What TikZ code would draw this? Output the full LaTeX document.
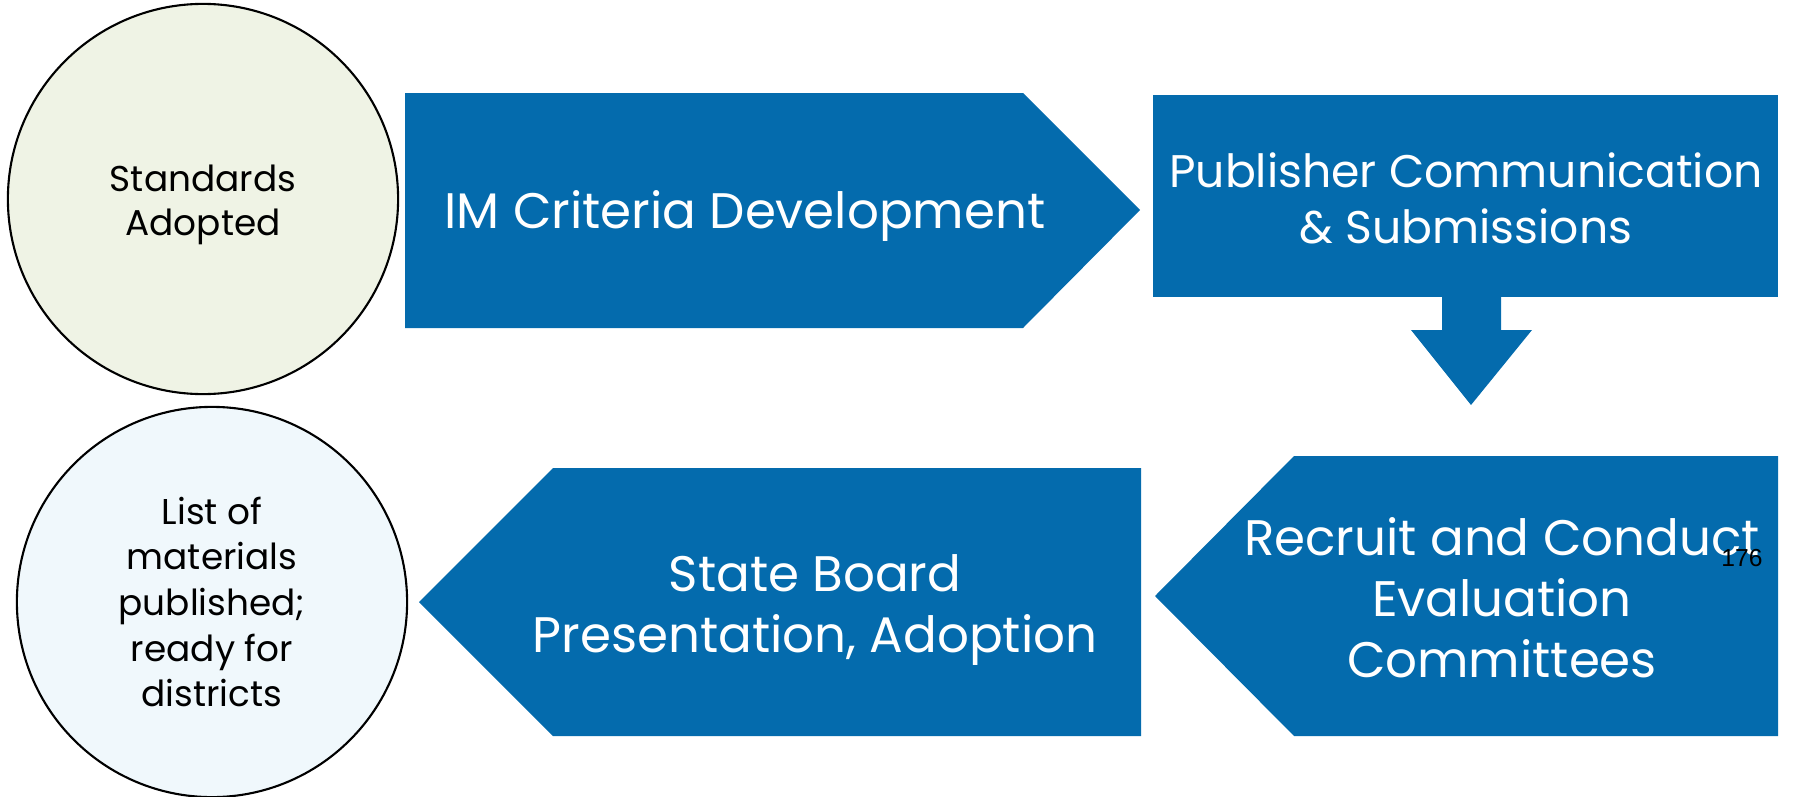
\documentclass[tikz,border=0pt]{standalone}
\usepackage{fontspec}
\setmainfont{Poppins}
\newfontfamily\pagenofont{Liberation Sans}
\usetikzlibrary{calc}
\definecolor{stepblue}{RGB}{4,107,173}
\definecolor{startfill}{RGB}{239,243,229}
\definecolor{endfill}{RGB}{240,248,252}
\tikzset{
  endcircle/.style={draw=black,line width=0.6pt,circle,minimum size=3.9cm,inner sep=0pt},
  circletext/.style={align=center,font=\fontsize{10.2}{12.6}\selectfont},
  steptext/.style={text=white,align=center,font=\fontsize{13}{15.9}\selectfont},
  bigsteptext/.style={steptext,font=\fontsize{14.2}{17.3}\selectfont},
}

\begin{document}
\begin{tikzpicture}[x=0.01cm,y=-0.01cm,line join=miter]
\useasboundingbox (0,0) rectangle (1796,797);
% start and end of the process
\node[endcircle,fill=startfill] (start) at (203,199) {};
\node[circletext] (starttext) at (203,205) {Standards\\Adopted};
\node[endcircle,fill=endfill] (done) at (212,602) {};
\node[circletext,font=\fontsize{10.2}{13}\selectfont] (donetext) at (212,602) {List of\\materials\\published;\\ready for\\districts};
% first row
\fill[stepblue] (405,93) -- (1023,93) -- (1140,210) -- (1023,328) -- (405,328) -- cycle;
\node[bigsteptext] (criteria) at (745,216) {IM Criteria Development};
\fill[stepblue] (1153,95) rectangle (1778,297);
\node[steptext] (publisher) at (1466,198) {Publisher Communication\\\& Submissions};
\fill[stepblue] (1442,296) -- (1501,296) -- (1501,330) -- (1532,330) -- (1471,405)
  -- (1411,330) -- (1442,330) -- cycle;
% second row, pointing back left
\fill[stepblue] (1778,456) -- (1294,456) -- (1155,596) -- (1294,736) -- (1778,736) -- cycle;
\node[bigsteptext] (recruit) at (1502,598) {Recruit and Conduct\\Evaluation\\Committees};
\fill[stepblue] (1141,468) -- (553,468) -- (419,602) -- (553,736) -- (1141,736) -- cycle;
\node[bigsteptext] (board) at (815,610) {State Board\\Presentation, Adoption};
\node[font=\pagenofont\fontsize{7}{8}\selectfont,inner sep=0pt] (pageno) at (1742,558) {176};
\end{tikzpicture}
\end{document}
